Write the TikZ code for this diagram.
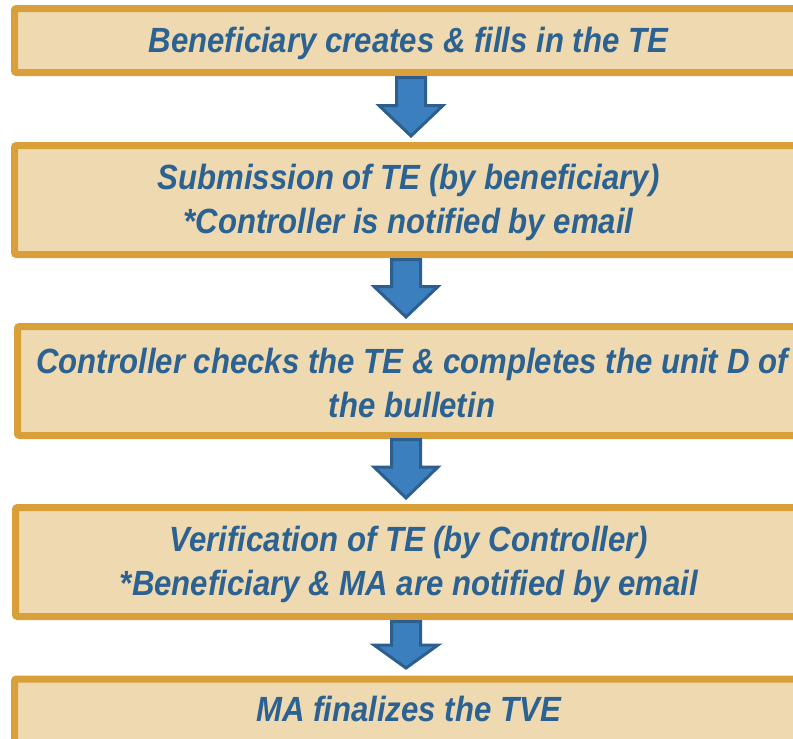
\documentclass[tikz,border=0pt]{standalone}
\usepackage{fontspec}
\newfontfamily\boxfont[FakeStretch=0.89]{Liberation Sans}
\definecolor{boxfill}{HTML}{EED9B0}
\definecolor{boxline}{HTML}{D9A03A}
\definecolor{txtblue}{HTML}{2B6292}
\definecolor{arrfill}{HTML}{3C7FBE}
\definecolor{arrline}{HTML}{2C5F8D}
\tikzset{
  stepbox/.style={draw=boxline, fill=boxfill, line width=7pt, rectangle, rounded corners=2pt,
    inner sep=0pt},
  boxtext/.style={inner sep=0pt, align=center, text=txtblue,
    font=\boxfont\bfseries\itshape\fontsize{35}{44}\selectfont},
  blockarrow/.style={draw=arrline, fill=arrfill, line width=3pt, line join=miter}
}
\newcommand\blockdown[5]{% cx, top, headtop, tip, name
  \path[blockarrow] (#1-14.5,-#2) -- (#1+14.5,-#2) -- (#1+14.5,-#3) -- (#1+32,-#3)
     -- (#1,-#4) -- (#1-32,-#3) -- (#1-14.5,-#3) -- cycle;
  \coordinate (#5) at (#1,-#4);}
\begin{document}
\begin{tikzpicture}[x=1pt,y=1pt]
\useasboundingbox (0,0) rectangle (793,-739);
\clip (0,0) rectangle (793,-739);
\fill[white] (0,0) rectangle (793,-739);
\node[stepbox, minimum width=788, minimum height=64] (b1) at (408.5,-40.5) {};
\node[boxtext] (t1) at ([yshift=-2.5pt]b1.center) {Beneficiary creates \& fills in the TE};
\node[stepbox, minimum width=788, minimum height=109] (b2) at (408.5,-200) {};
\node[boxtext] (t2) at ([yshift=-2.5pt]b2.center)
  {Submission of TE (by beneficiary)\\*Controller is notified by email};
\node[stepbox, minimum width=785, minimum height=109] (b3) at (410,-381) {};
\node[boxtext] (t3) at ([xshift=2pt,yshift=-2pt]b3.center)
  {Controller checks the TE \& completes the unit D of\\the bulletin};
\node[stepbox, minimum width=787, minimum height=109] (b4) at (409,-562) {};
\node[boxtext] (t4) at ([yshift=-2.5pt]b4.center)
  {Verification of TE (by Controller)\\*Beneficiary \& MA are notified by email};
\node[stepbox, minimum width=788, minimum height=64.5, anchor=north] (b5) at (408.5,-675.5) {};
\node[boxtext] (t5) at (408.5,-709) {MA finalizes the TVE};
\blockdown{411}{77.5}{105.5}{136}{a1}
\blockdown{406}{259.5}{286.5}{317}{a2}
\blockdown{406}{439.5}{467}{498}{a3}
\blockdown{406}{621.5}{645}{668}{a4}
\end{tikzpicture}
\end{document}
